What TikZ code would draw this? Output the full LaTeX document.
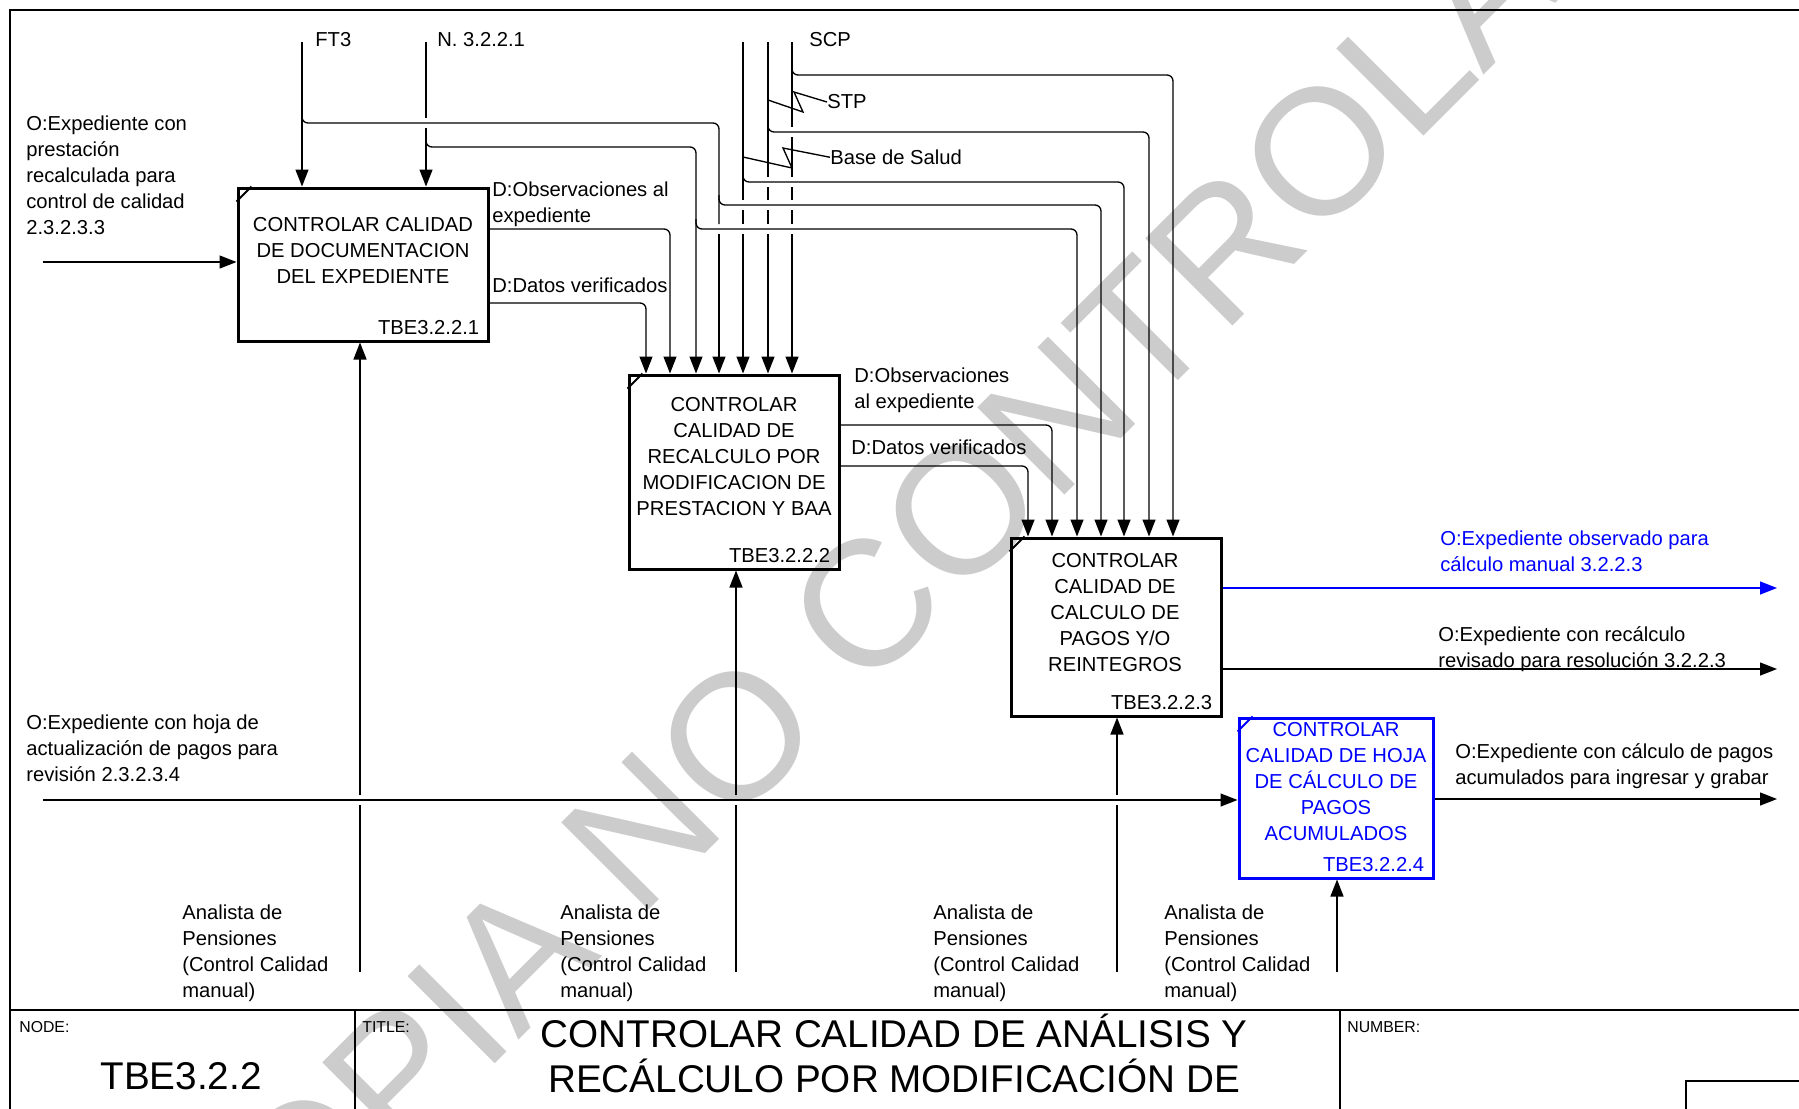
\documentclass[tikz,border=0pt]{standalone}
\usepackage{fontspec}
\setmainfont{Liberation Sans}
\usetikzlibrary{positioning,fit,arrows.meta,calc}
\definecolor{idefblue}{RGB}{0,0,255}
\definecolor{wmgray}{RGB}{204,204,204}
\newcommand\lblsize{\fontsize{11.5}{14.74}\selectfont}
\newcommand\ttlsize{\fontsize{22}{25.5}\selectfont}
\newcommand\tagsize{\fontsize{9}{11}\selectfont}
\tikzset{
  act/.style={draw,line width=0.6mm,inner sep=0pt},
  acttxt/.style={align=center,font=\lblsize,inner sep=0pt,anchor=north},
  actid/.style={font=\lblsize,inner sep=0pt,anchor=north east},
  lbl/.style={align=left,font=\lblsize,inner sep=0pt,anchor=north west},
  smalltag/.style={font=\tagsize,inner sep=0pt,anchor=north west},
  wire/.style={line width=0.27mm},
  flow/.style={wire,-{Triangle[length=3.4mm,width=2.6mm]}},
  tapwire/.style={wire,rounded corners=1.2mm},
  frm/.style={line width=0.4mm},
  cornertick/.style={line width=0.4mm},
}

\begin{document}
\begin{tikzpicture}[x=0.2mm,y=-0.2mm]
  \useasboundingbox (0,0) rectangle (1799,1108);
  \clip (0,0) rectangle (1799,1108);

  \node[rotate=45,text=wmgray,font=\fontsize{102}{102}\selectfont,inner sep=0pt] (wm) at (933,539) {COPIA NO CONTROLADA};

  \draw[frm] (10,1200) -- (10,10) -- (1830,10);
  \draw[frm] (10,1010) -- (1830,1010);
  \draw[frm] (355,1010) -- (355,1200);
  \draw[frm] (1340,1010) -- (1340,1200);
  \draw[frm] (1686,1200) |- (1830,1081);

  \node[act,fit={(238,188) (488,341)}] (b1) {};
  \node[act,fit={(629,375) (839,569)}] (b2) {};
  \node[act,fit={(1011,538) (1221,716)}] (b3) {};
  \node[act,draw=idefblue,fit={(1239,718) (1433,878)}] (b4) {};
  \foreach \b in {b1,b2,b3} \draw[cornertick] (\b.north west) ++(0,15) -- ++(15,-15);
  \draw[cornertick,idefblue] (b4.north west) ++(0,15) -- ++(15,-15);

  \node[acttxt] (b1t) at (363,217.5) {CONTROLAR CALIDAD\\DE DOCUMENTACION\\DEL EXPEDIENTE};
  \node[acttxt] (b2t) at (734,397.5) {CONTROLAR\\CALIDAD DE\\RECALCULO POR\\MODIFICACION DE\\PRESTACION Y BAA};
  \node[acttxt] (b3t) at (1115,553.5) {CONTROLAR\\CALIDAD DE\\CALCULO DE\\PAGOS Y/O\\REINTEGROS};
  \node[acttxt,text=idefblue] (b4t) at (1336,722.5) {CONTROLAR\\CALIDAD DE HOJA\\DE CÁLCULO DE\\PAGOS\\ACUMULADOS};
  \node[actid] (b1id) at ($(b1.south east)+(-10,-22.5)$) {TBE3.2.2.1};
  \node[actid] (b2id) at ($(b2.south east)+(-10,-22.5)$) {TBE3.2.2.2};
  \node[actid] (b3id) at ($(b3.south east)+(-10,-22.5)$) {TBE3.2.2.3};
  \node[actid,text=idefblue] (b4id) at ($(b4.south east)+(-10,-22.5)$) {TBE3.2.2.4};

  % controls
  \coordinate (ft3) at (302,42);
  \coordinate (nrm) at (426,42);
  \coordinate (bds) at (743,42);
  \coordinate (stp) at (768,42);
  \coordinate (scp) at (792,42);
  \coordinate (ft3a) at (719,123);
  \coordinate (ft3c) at (1101,205);
  \coordinate (nrma) at (696,147);
  \coordinate (nrmc) at (1077,229);
  \coordinate (bdsc) at (1124,182);
  \coordinate (stpc) at (1149,132);
  \coordinate (scpc) at (1173,75);
  \node[lbl] (ft3l) at (315,32.5) {FT3};
  \node[lbl] (nrml) at (437,32.5) {N. 3.2.2.1};
  \node[lbl] (scpl) at (809,32.5) {SCP};
  \node[lbl] (stpl) at (827,94.5) {STP};
  \node[lbl] (bdsl) at (830,149.5) {Base de Salud};

  \draw[flow] (ft3) -- (ft3 |- b1.north);
  \draw[flow] (nrm) -- (426,118) (426,128) -- (nrm |- b1.north);
  \draw[flow] (bds) -- (743,200) (743,210) -- (743,224) (743,234) -- (bds |- b2.north);
  \draw[flow] (stp) -- (768,177) (768,187) -- (768,200) (768,210) -- (768,224) (768,234) -- (stp |- b2.north);
  \draw[flow] (scp) -- (792,127) (792,137) -- (792,177) (792,187) -- (792,200) (792,210) -- (792,224) (792,234) -- (scp |- b2.north);
  \draw[tapwire] (302,108) |- (ft3a) -- (719,224);
  \draw[flow] (719,234) -- (ft3a |- b2.north);
  \draw[tapwire,flow] (719,195) |- (ft3c) -- (ft3c |- b3.north);
  \draw[tapwire,flow] (426,137) |- (nrma) -- (nrma |- b2.north);
  \draw[tapwire,flow] (696,219) |- (nrmc) -- (nrmc |- b3.north);
  \draw[tapwire,flow] (743,172) |- (bdsc) -- (bdsc |- b3.north);
  \draw[tapwire,flow] (768,122) |- (stpc) -- (stpc |- b3.north);
  \draw[tapwire,flow] (792,65) |- (scpc) -- (scpc |- b3.north);
  \draw[wire] (768,100) -- (803,112) -- (794,92) -- (stpl.west);
  \draw[wire] (743,157) -- (792,168) -- (783,148) -- (bdsl.west);

  % inputs
  \coordinate (in1) at (43,262);
  \coordinate (in2) at (43,800);
  \node[lbl] (in1l) at (26,115.5) {O:Expediente con\\prestación\\recalculada para\\control de calidad\\2.3.2.3.3};
  \node[lbl] (in2l) at (26,714.5) {O:Expediente con hoja de\\actualización de pagos para\\revisión 2.3.2.3.4};
  \draw[flow] (in1) -- (in1 -| b1.west);
  \draw[flow] (in2) -- (in2 -| b4.west);

  % outputs
  \coordinate (obs1) at (670,229);
  \coordinate (dat1) at (646,303);
  \coordinate (obs2) at (1052,425);
  \coordinate (dat2) at (1028,466);
  \coordinate (out1) at (1777,588);
  \coordinate (out2) at (1777,669);
  \coordinate (out4) at (1777,799);
  \node[lbl] (obs1l) at (492,181.5) {D:Observaciones al\\expediente};
  \node[lbl] (dat1l) at (492,277.5) {D:Datos verificados};
  \node[lbl] (obs2l) at (854,367.5) {D:Observaciones\\al expediente};
  \node[lbl] (dat2l) at (851,439.5) {D:Datos verificados};
  \node[lbl,text=idefblue] (out1l) at (1440,530.5) {O:Expediente observado para\\cálculo manual 3.2.2.3};
  \node[lbl] (out2l) at (1438,626.5) {O:Expediente con recálculo\\revisado para resolución 3.2.2.3};
  \node[lbl] (out4l) at (1455,743.5) {O:Expediente con cálculo de pagos\\acumulados para ingresar y grabar};
  \draw[tapwire,flow] (b1.east |- obs1) -| (obs1 |- b2.north);
  \draw[tapwire,flow] (b1.east |- dat1) -| (dat1 |- b2.north);
  \draw[tapwire,flow] (b2.east |- obs2) -| (obs2 |- b3.north);
  \draw[tapwire,flow] (b2.east |- dat2) -| (dat2 |- b3.north);
  \draw[flow,idefblue] (b3.east |- out1) -- (out1);
  \draw[flow] (b3.east |- out2) -- (out2);
  \draw[flow] (b4.east |- out4) -- (out4);

  % mechanisms
  \coordinate (mch1) at (360,972);
  \coordinate (mch2) at (736,972);
  \coordinate (mch3) at (1117,972);
  \coordinate (mch4) at (1337,972);
  \draw[flow] (mch1) -- (360,805) (360,795) -- (mch1 |- b1.south);
  \draw[flow] (mch2) -- (736,805) (736,795) -- (mch2 |- b2.south);
  \draw[flow] (mch3) -- (1117,805) (1117,795) -- (mch3 |- b3.south);
  \draw[flow] (mch4) -- (mch4 |- b4.south);
  \node[lbl] (mch1l) at (182,904.5) {Analista de\\Pensiones\\(Control Calidad\\manual)};
  \node[lbl] (mch2l) at (560,904.5) {Analista de\\Pensiones\\(Control Calidad\\manual)};
  \node[lbl] (mch3l) at (933,904.5) {Analista de\\Pensiones\\(Control Calidad\\manual)};
  \node[lbl] (mch4l) at (1164,904.5) {Analista de\\Pensiones\\(Control Calidad\\manual)};

  % title block
  \node[smalltag] (nodelbl) at (19,1021) {NODE:};
  \node[smalltag] (ttllbl) at (362,1021) {TITLE:};
  \node[smalltag] (numlbl) at (1347,1021) {NUMBER:};
  \node[font=\ttlsize,inner sep=0pt] (nodeid) at (181,1076) {TBE3.2.2};
  \node[font=\ttlsize,inner sep=0pt,anchor=base] (ttl1) at (894,1047) {CONTROLAR CALIDAD DE ANÁLISIS Y};
  \node[font=\ttlsize,inner sep=0pt,anchor=base] (ttl2) at (894,1092) {RECÁLCULO POR MODIFICACIÓN DE};
\end{tikzpicture}
\end{document}
